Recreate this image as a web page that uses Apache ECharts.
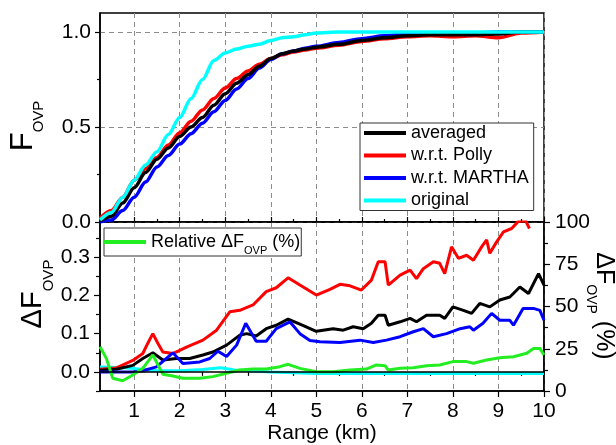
<!DOCTYPE html>
<html>
<head>
<meta charset="utf-8">
<script src="https://cdn.jsdelivr.net/npm/echarts@6/dist/echarts.min.js"></script>
<style>
  html, body { margin: 0; padding: 0; background: #fff; }
  #chart { width: 616px; height: 445px; }
</style>
</head>
<body>
<div id="chart"></div>
<script>
// ---- values ----
// top panel: F_OVP vs range (km)
const rangeTop = [0.25, 0.5, 0.75, 1, 1.25, 1.5, 1.75, 2, 2.25, 2.5, 2.75, 3, 3.25, 3.5, 3.75,
  4, 4.25, 4.5, 4.75, 5, 5.5, 6, 6.5, 7, 7.5, 8, 8.5, 9, 9.5, 10];
const fAveraged = [0.005, 0.03, 0.1, 0.18, 0.26, 0.33, 0.39, 0.45, 0.5, 0.55, 0.615, 0.675, 0.73, 0.775, 0.82,
  0.86, 0.885, 0.9, 0.91, 0.92, 0.935, 0.955, 0.97, 0.98, 0.985, 0.985, 0.985, 0.99, 1.0, 1.0];
const fPolly = [0.02, 0.06, 0.13, 0.22, 0.28, 0.34, 0.405, 0.47, 0.53, 0.59, 0.65, 0.705, 0.755, 0.795, 0.83,
  0.86, 0.88, 0.895, 0.905, 0.915, 0.93, 0.95, 0.965, 0.975, 0.98, 0.975, 0.98, 0.97, 0.995, 1.0];
const fMartha = [0.0, 0.01, 0.06, 0.13, 0.21, 0.29, 0.35, 0.41, 0.465, 0.52, 0.58, 0.64, 0.7, 0.755, 0.81,
  0.855, 0.885, 0.9, 0.915, 0.925, 0.945, 0.965, 0.98, 0.99, 0.99, 0.99, 0.995, 1.0, 1.0, 1.0];
const fOriginal = [0.01, 0.05, 0.13, 0.22, 0.3, 0.37, 0.46, 0.55, 0.65, 0.75, 0.85, 0.89, 0.91, 0.925, 0.935,
  0.955, 0.97, 0.975, 0.985, 0.995, 1.0, 1.0, 1.0, 1.0, 1.0, 1.0, 1.0, 1.0, 1.0, 1.0];

// bottom panel: delta F_OVP (left axis) and relative delta in % (right axis)
const rangePolly = [0.25, 0.6, 0.97, 1.19, 1.3, 1.41, 1.52, 1.63, 1.85, 2.15, 2.51, 2.81, 3.1, 3.32, 3.61, 3.9,
  4.12, 4.38, 4.64, 5.0, 5.3, 5.52, 5.74, 5.99, 6.21, 6.36, 6.51, 6.58, 6.84, 7.06, 7.2, 7.35, 7.57,
  7.71, 7.82, 7.97, 8.12, 8.3, 8.45, 8.63, 8.74, 8.81, 8.96, 9.11, 9.29, 9.43, 9.6, 9.68];
const dPolly = [0.007, 0.01, 0.03, 0.048, 0.075, 0.1, 0.075, 0.052, 0.048, 0.065, 0.083, 0.109, 0.157, 0.161, 0.175, 0.21,
  0.22, 0.246, 0.227, 0.201, 0.216, 0.229, 0.225, 0.214, 0.24, 0.288, 0.288, 0.227, 0.253, 0.266, 0.244, 0.27, 0.288,
  0.284, 0.257, 0.327, 0.297, 0.305, 0.292, 0.327, 0.345, 0.31, 0.34, 0.366, 0.375, 0.393, 0.395, 0.375];
const rangeAvg = [0.25, 0.61, 0.97, 1.19, 1.41, 1.63, 1.93, 2.22, 2.51, 2.73, 3.03, 3.32, 3.47, 3.68, 3.9, 4.12,
  4.38, 4.64, 5.0, 5.37, 5.59, 5.81, 6.03, 6.21, 6.36, 6.51, 6.58, 6.84, 7.06, 7.2, 7.42, 7.71, 7.82, 8.0,
  8.23, 8.41, 8.59, 8.81, 9.03, 9.25, 9.47, 9.66, 9.88, 10];
const dAveraged = [0.004, 0.007, 0.017, 0.035, 0.05, 0.031, 0.035, 0.035, 0.044, 0.052, 0.07, 0.096, 0.1, 0.094, 0.113, 0.122,
  0.138, 0.125, 0.106, 0.113, 0.109, 0.118, 0.113, 0.127, 0.148, 0.148, 0.122, 0.131, 0.14, 0.131, 0.148, 0.148, 0.14, 0.17,
  0.161, 0.153, 0.179, 0.17, 0.188, 0.196, 0.222, 0.205, 0.257, 0.227];
const rangeMartha = [0.25, 0.97, 1.19, 1.49, 1.85, 2.07, 2.44, 2.66, 2.84, 3.03, 3.25, 3.45, 3.68, 3.9, 4.12, 4.42,
  4.64, 4.86, 5.08, 5.52, 5.96, 6.25, 6.54, 6.84, 7.13, 7.35, 7.57, 7.86, 8.16, 8.37, 8.45, 8.66, 8.85, 9.03,
  9.25, 9.33, 9.54, 9.77, 9.91, 10];
const dMartha = [0, 0, 0.003, 0.013, 0.05, 0.022, 0.026, 0.035, 0.054, 0.04, 0.07, 0.127, 0.08, 0.08, 0.113, 0.131,
  0.1, 0.082, 0.079, 0.077, 0.083, 0.077, 0.083, 0.092, 0.105, 0.113, 0.092, 0.1, 0.113, 0.118, 0.109, 0.127, 0.153, 0.135,
  0.135, 0.122, 0.166, 0.166, 0.161, 0.135];
const rangeOrig = [0.25, 0.5, 0.75, 1.0, 1.25, 1.5, 2, 2.5, 2.9, 3.2, 4, 5, 6, 7, 8, 9, 10];
const dOriginal = [0.013, 0.012, 0.011, 0.009, 0.005, 0.003, 0.003, 0.006, 0.011, 0.005, 0.0, -0.004, -0.004, -0.004, -0.004, -0.004, -0.004];
const rangeRel = [0.25, 0.39, 0.53, 0.75, 0.97, 1.19, 1.41, 1.63, 1.85, 2.07, 2.44, 2.73, 3.03, 3.32, 3.61, 3.9,
  4.2, 4.38, 4.64, 5.0, 5.37, 5.74, 6.1, 6.32, 6.51, 6.58, 6.84, 7.13, 7.42, 7.71, 8.0, 8.3, 8.45, 8.74,
  9.03, 9.33, 9.62, 9.77, 9.91, 10];
const relPercent = [26.2, 19.3, 7.5, 6.1, 9.5, 13.4, 21.3, 9.9, 8.9, 7.5, 7.5, 8.5, 10.5, 12.4, 13.0, 13.0,
  14.4, 15.8, 13.4, 11.4, 11.4, 12.4, 13.0, 15.4, 15.0, 12.4, 13.4, 13.8, 15.0, 15.4, 17.4, 17.4, 16.4, 18.3,
  19.7, 20.3, 22.3, 25.2, 25.2, 21.3];

// ticks
const kmMajor = [1, 2, 3, 4, 5, 6, 7, 8, 9, 10];
const kmMinor = [0.5, 1.5, 2.5, 3.5, 4.5, 5.5, 6.5, 7.5, 8.5, 9.5];
const fMajor = [0, 0.5, 1];
const fMinor = [0.25, 0.75];
const dMajor = [0, 0.1, 0.2, 0.3];
const dMinor = [-0.05, 0.05, 0.15, 0.25, 0.35];

const FONT = "'Liberation Sans', Arial, sans-serif";
const zip = (xs, ys) => xs.map((x, i) => [x, ys[i]]);

const chart = echarts.init(document.getElementById('chart'), null, { renderer: 'canvas' });

const axisLine = { show: true, onZero: false, lineStyle: { color: '#000', width: 1.5 } };
const tickLine = { color: '#000', width: 1.2 };
const dashed = { show: true, lineStyle: { color: '#8c8c8c', type: [5, 4], width: 1 } };
const labelStyle = { color: '#000', fontSize: 21, fontFamily: FONT };

function lineSeries(name, data, color, xi, yi, width, smooth) {
  return {
    name: name,
    type: 'line',
    xAxisIndex: xi,
    yAxisIndex: yi,
    data: data,
    symbol: 'none',
    smooth: smooth,
    smoothMonotone: 'x',
    lineStyle: { color: color, width: width },
    itemStyle: { color: color }
  };
}

const option = {
  animation: false,
  backgroundColor: '#fff',
  grid: [
    { left: 100, right: 72, top: 13, height: 209, show: true, borderColor: '#000', borderWidth: 1.5,
      backgroundColor: 'transparent', outerBoundsMode: 'none' },
    { left: 100, right: 72, top: 222, height: 169, show: true, borderColor: '#000', borderWidth: 1.5,
      backgroundColor: 'transparent', outerBoundsMode: 'none' }
  ],
  xAxis: [
    { gridIndex: 0, type: 'value', min: 0.25, max: 10, position: 'bottom',
      axisLine: axisLine,
      axisTick: { show: true, inside: true, length: 5, customValues: kmMajor, lineStyle: tickLine },
      axisLabel: { show: false },
      splitLine: dashed },
    { gridIndex: 0, type: 'value', min: 0.25, max: 10, position: 'bottom',
      axisLine: { show: false },
      axisTick: { show: true, inside: true, length: 3, customValues: kmMinor, lineStyle: tickLine },
      axisLabel: { show: false }, splitLine: { show: false } },
    { gridIndex: 1, type: 'value', min: 0.25, max: 10, position: 'bottom',
      axisLine: axisLine,
      axisTick: { show: true, length: 6, customValues: kmMajor, lineStyle: tickLine },
      axisLabel: Object.assign({ customValues: kmMajor, margin: 10 }, labelStyle),
      splitLine: dashed },
    { gridIndex: 1, type: 'value', min: 0.25, max: 10, position: 'bottom',
      axisLine: { show: false },
      axisTick: { show: true, length: 4, customValues: kmMinor, lineStyle: tickLine },
      axisLabel: { show: false }, splitLine: { show: false } },
    // zero line of the lower panel, sitting on ΔF = 0 and drawn above the curves
    { gridIndex: 1, type: 'value', min: 0.25, max: 10, position: 'bottom', z: 10,
      axisLine: { show: true, onZero: true, onZeroAxisIndex: 2, lineStyle: { color: '#000', width: 1.5 } },
      axisTick: { show: false }, axisLabel: { show: false }, splitLine: { show: false } }
  ],
  yAxis: [
    { gridIndex: 0, type: 'value', min: 0, max: 1.1, interval: 0.5, position: 'left',
      axisLine: axisLine,
      axisTick: { show: true, length: 5, customValues: fMajor, lineStyle: tickLine },
      axisLabel: Object.assign({ customValues: fMajor, margin: 9, formatter: v => v.toFixed(1) }, labelStyle),
      splitLine: dashed },
    { gridIndex: 0, type: 'value', min: 0, max: 1.1, position: 'left',
      axisLine: { show: false },
      axisTick: { show: true, length: 3, customValues: fMinor, lineStyle: tickLine },
      axisLabel: { show: false }, splitLine: { show: false } },
    { gridIndex: 1, type: 'value', min: -0.05, max: 0.392, position: 'left',
      axisLine: axisLine,
      axisTick: { show: true, length: 6, customValues: dMajor, lineStyle: tickLine },
      axisLabel: Object.assign({ customValues: dMajor, margin: 10, formatter: v => v.toFixed(1) }, labelStyle),
      splitLine: { show: false } },
    { gridIndex: 1, type: 'value', min: -0.05, max: 0.392, position: 'left',
      axisLine: { show: false },
      axisTick: { show: true, length: 4, customValues: dMinor, lineStyle: tickLine },
      axisLabel: { show: false }, splitLine: { show: false } },
    { gridIndex: 1, type: 'value', min: 0, max: 100, interval: 25, position: 'right',
      axisLine: axisLine,
      axisTick: { show: true, length: 6, lineStyle: tickLine },
      minorTick: { show: true, splitNumber: 2, length: 4, lineStyle: tickLine },
      axisLabel: Object.assign({ margin: 11 }, labelStyle),
      splitLine: { show: false }, minorSplitLine: { show: false } }
  ],
  legend: [
    { data: ['averaged', 'w.r.t. Polly', 'w.r.t. MARTHA', 'original'],
      orient: 'vertical', left: 360, top: 123,
      icon: 'rect', itemWidth: 42, itemHeight: 4, itemGap: 4.5,
      padding: [1, 5, 1, 4],
      backgroundColor: '#fff', borderColor: '#333', borderWidth: 1, borderRadius: 0,
      selectedMode: false,
      textStyle: { color: '#000', fontSize: 18, fontFamily: FONT, lineHeight: 18 } },
    { data: ['Relative ΔF_OVP (%)'],
      left: 104, top: 228,
      icon: 'rect', itemWidth: 42, itemHeight: 4,
      padding: [0, 1, 0, 0],
      backgroundColor: '#fff', borderColor: '#333', borderWidth: 1, borderRadius: 0,
      selectedMode: false,
      formatter: () => '{a|Relative ΔF}{s|OVP}{a| (%)}',
      textStyle: {
        color: '#000', fontSize: 18, fontFamily: FONT,
        rich: {
          a: { color: '#000', fontSize: 18, fontFamily: FONT, lineHeight: 18 },
          s: { color: '#000', fontSize: 11, fontFamily: FONT, lineHeight: 11, padding: [17, 0, 0, 0] }
        }
      } }
  ],
  graphic: [
    { type: 'text', x: 23, y: 126, rotation: Math.PI / 2,
      style: { text: '{m|F}{s|OVP}', align: 'center', verticalAlign: 'middle',
        rich: {
          m: { fontSize: 31, fontFamily: FONT, fill: '#000', lineHeight: 31 },
          s: { fontSize: 15, fontFamily: FONT, fill: '#000', lineHeight: 15, padding: [32, 0, 0, 0] }
        } } },
    { type: 'text', x: 33, y: 294, rotation: Math.PI / 2,
      style: { text: '{m|ΔF}{s|OVP}', align: 'center', verticalAlign: 'middle',
        rich: {
          m: { fontSize: 29, fontFamily: FONT, fill: '#000', lineHeight: 29 },
          s: { fontSize: 15, fontFamily: FONT, fill: '#000', lineHeight: 15, padding: [31, 0, 0, 0] }
        } } },
    { type: 'text', x: 604, y: 306, rotation: -Math.PI / 2,
      style: { text: '{m|ΔF}{s|OVP}{m| (%)}', align: 'center', verticalAlign: 'middle',
        rich: {
          m: { fontSize: 25, fontFamily: FONT, fill: '#000', lineHeight: 25 },
          s: { fontSize: 14, fontFamily: FONT, fill: '#000', lineHeight: 14, padding: [27, 0, 0, 0] }
        } } },
    { type: 'text', x: 322, y: 433,
      style: { text: 'Range (km)', align: 'center', verticalAlign: 'middle',
        fontSize: 21, fontFamily: FONT, fill: '#000' } }
  ],
  series: [
    lineSeries('w.r.t. Polly', zip(rangeTop, fPolly), '#ff0000', 0, 0, 3.5, 0.3),
    lineSeries('w.r.t. MARTHA', zip(rangeTop, fMartha), '#0000ff', 0, 0, 3.5, 0.3),
    lineSeries('averaged', zip(rangeTop, fAveraged), '#000000', 0, 0, 3.5, 0.3),
    lineSeries('original', zip(rangeTop, fOriginal), '#00ffff', 0, 0, 3.5, 0.3),
    lineSeries('ΔF original', zip(rangeOrig, dOriginal), '#00ffff', 2, 2, 3, false),
    lineSeries('ΔF Polly', zip(rangePolly, dPolly), '#ff0000', 2, 2, 3, false),
    lineSeries('ΔF averaged', zip(rangeAvg, dAveraged), '#000000', 2, 2, 3, false),
    lineSeries('ΔF MARTHA', zip(rangeMartha, dMartha), '#0000ff', 2, 2, 3, false),
    lineSeries('Relative ΔF_OVP (%)', zip(rangeRel, relPercent), '#22ee22', 2, 4, 3, false)
  ]
};

chart.setOption(option);
</script>
</body>
</html>
